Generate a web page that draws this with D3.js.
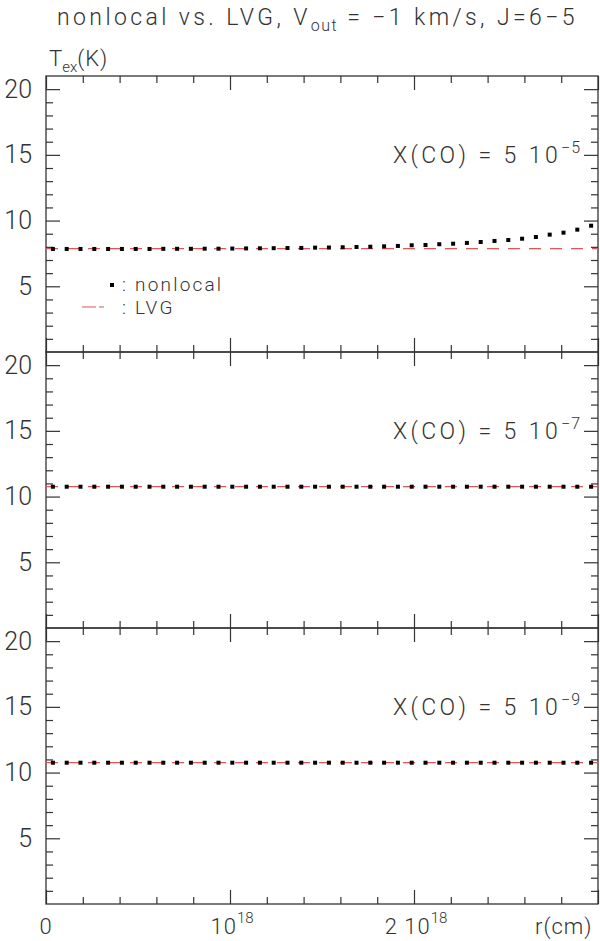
<!DOCTYPE html>
<html>
<head>
<meta charset="utf-8">
<script src="https://cdn.jsdelivr.net/npm/d3@7"></script>
<style>
body{margin:0;background:#fff;}
text{font-family:Roboto,"DejaVu Sans",sans-serif;font-weight:300;fill:#333;}
</style>
</head>
<body>
<div id="plot"></div>
<script>
// radius grid, in units of 1e18 cm
var radius = [0.0375,0.1125,0.1875,0.2625,0.3375,0.4125,0.4875,0.5625,0.6375,0.7125,
	0.7875,0.8625,0.9375,1.0125,1.0875,1.1625,1.2375,1.3125,1.3875,1.4625,
	1.5375,1.6125,1.6875,1.7625,1.8375,1.9125,1.9875,2.0625,2.1375,2.2125,
	2.2875,2.3625,2.4375,2.5125,2.5875,2.6625,2.7375,2.8125,2.8875,2.9625];

// Tex (K), X(CO) = 5e-5
var nonlocal5 = [7.84,7.84,7.84,7.84,7.84,7.84,7.84,7.84,7.85,7.85,
	7.85,7.86,7.86,7.87,7.88,7.89,7.90,7.91,7.92,7.94,
	7.95,7.97,7.99,8.01,8.04,8.07,8.12,8.14,8.20,8.24,
	8.30,8.37,8.45,8.52,8.62,8.75,8.93,9.08,9.31,9.61];
var lvg5 = [7.86,7.86,7.86,7.86,7.86,7.86,7.86,7.86,7.86,7.86,
	7.86,7.86,7.86,7.86,7.86,7.86,7.86,7.86,7.86,7.86,
	7.86,7.86,7.86,7.86,7.86,7.86,7.86,7.86,7.86,7.86,
	7.86,7.86,7.86,7.86,7.86,7.86,7.86,7.86,7.86,7.86];
// X(CO) = 5e-7
var nonlocal7 = [10.75,10.75,10.75,10.75,10.75,10.75,10.75,10.75,10.75,10.75,
	10.75,10.75,10.75,10.75,10.75,10.75,10.75,10.75,10.75,10.75,
	10.75,10.75,10.75,10.75,10.75,10.75,10.75,10.75,10.75,10.75,
	10.75,10.75,10.75,10.75,10.75,10.75,10.75,10.75,10.75,10.75];
var lvg7 = [10.75,10.75,10.75,10.75,10.75,10.75,10.75,10.75,10.75,10.75,
	10.75,10.75,10.75,10.75,10.75,10.75,10.75,10.75,10.75,10.75,
	10.75,10.75,10.75,10.75,10.75,10.75,10.75,10.75,10.75,10.75,
	10.75,10.75,10.75,10.75,10.75,10.75,10.75,10.75,10.75,10.75];
// X(CO) = 5e-9
var nonlocal9 = [10.75,10.75,10.75,10.75,10.75,10.75,10.75,10.75,10.75,10.75,
	10.75,10.75,10.75,10.75,10.75,10.75,10.75,10.75,10.75,10.75,
	10.75,10.75,10.75,10.75,10.75,10.75,10.75,10.75,10.75,10.75,
	10.75,10.75,10.75,10.75,10.75,10.75,10.75,10.75,10.75,10.75];
var lvg9 = [10.75,10.75,10.75,10.75,10.75,10.75,10.75,10.75,10.75,10.75,
	10.75,10.75,10.75,10.75,10.75,10.75,10.75,10.75,10.75,10.75,
	10.75,10.75,10.75,10.75,10.75,10.75,10.75,10.75,10.75,10.75,
	10.75,10.75,10.75,10.75,10.75,10.75,10.75,10.75,10.75,10.75];

var panelLabels = ['5', '7', '9'];   // exponent of X(CO) = 5 10^-n
var yMajor = [5, 10, 15, 20];
var yMinor = [1,2,3,4,6,7,8,9,11,12,13,14,16,17,18,19];
var xMajor = [0, 1, 2, 3];
var xMinor = [0.2,0.4,0.6,0.8,1.2,1.4,1.6,1.8,2.2,2.4,2.6,2.8];
var xTickLabels = [{v:0, base:'0', sup:''}, {v:1, base:'10', sup:'18'}, {v:2, base:'2 10', sup:'18'}];

var W = 600, H = 941;
var left = 46, right = 598, top0 = 76, panelH = 276;

var svg = d3.select('#plot').append('svg')
	.attr('width', W).attr('height', H);

var x = d3.scaleLinear().domain([0, 3]).range([left, right]);

var panels = [
	{nl: nonlocal5, lvg: lvg5, lab: panelLabels[0]},
	{nl: nonlocal7, lvg: lvg7, lab: panelLabels[1]},
	{nl: nonlocal9, lvg: lvg9, lab: panelLabels[2]}
];

function strokeAxis(g){
	g.select('.domain').remove();
	g.selectAll('line').attr('stroke', '#333').attr('stroke-width', 1.2);
}

panels.forEach(function(p, k){
	var top = top0 + k*panelH;
	var y = d3.scaleLinear().domain([0, 21]).range([top + panelH, top]);
	var g = svg.append('g');

	// ticks, all pointing inward
	g.append('g').attr('transform', 'translate(0,' + top + ')')
		.call(d3.axisTop(x).tickValues(xMajor).tickSize(-14).tickFormat(''))
		.call(strokeAxis);
	g.append('g').attr('transform', 'translate(0,' + top + ')')
		.call(d3.axisTop(x).tickValues(xMinor).tickSize(-7).tickFormat(''))
		.call(strokeAxis);
	g.append('g').attr('transform', 'translate(0,' + (top + panelH) + ')')
		.call(d3.axisBottom(x).tickValues(xMajor).tickSize(-14).tickFormat(''))
		.call(strokeAxis);
	g.append('g').attr('transform', 'translate(0,' + (top + panelH) + ')')
		.call(d3.axisBottom(x).tickValues(xMinor).tickSize(-7).tickFormat(''))
		.call(strokeAxis);

	var yl = g.append('g').attr('transform', 'translate(' + left + ',0)')
		.call(d3.axisLeft(y).tickValues(yMajor).tickSize(-14).tickPadding(14))
		.call(strokeAxis);
	yl.selectAll('text').attr('font-size', 25).attr('fill', '#333')
		.attr('font-family', 'Roboto, DejaVu Sans, sans-serif').attr('font-weight', 300);
	g.append('g').attr('transform', 'translate(' + left + ',0)')
		.call(d3.axisLeft(y).tickValues(yMinor).tickSize(-7).tickFormat(''))
		.call(strokeAxis);
	g.append('g').attr('transform', 'translate(' + right + ',0)')
		.call(d3.axisRight(y).tickValues(yMajor).tickSize(-14).tickFormat(''))
		.call(strokeAxis);
	g.append('g').attr('transform', 'translate(' + right + ',0)')
		.call(d3.axisRight(y).tickValues(yMinor).tickSize(-7).tickFormat(''))
		.call(strokeAxis);

	g.append('rect')
		.attr('x', left).attr('y', top)
		.attr('width', right - left).attr('height', panelH)
		.attr('fill', 'none').attr('stroke', '#333').attr('stroke-width', 1.3);

	// LVG: red dashed line across the panel
	g.append('path')
		.datum(p.lvg)
		.attr('d', d3.line().x(function(d, i){ return i === 0 ? left : (i === p.lvg.length - 1 ? right : x(radius[i])); }).y(function(d){ return y(d); }))
		.attr('fill', 'none')
		.attr('stroke', '#e05555')
		.attr('stroke-width', 1.2)
		.attr('stroke-dasharray', '12,9');

	// nonlocal: black square dots
	g.selectAll('rect.dot')
		.data(p.nl)
		.enter()
		.append('rect')
		.attr('class', 'dot')
		.attr('x', function(d, i){ return x(radius[i]) - 2; })
		.attr('y', function(d){ return y(d) - 2; })
		.attr('width', 4)
		.attr('height', 4)
		.attr('fill', '#000');

	var lab = g.append('text')
		.attr('x', 393).attr('y', top + 87)
		.attr('font-size', 23)
		.attr('letter-spacing', 3.4);
	lab.append('tspan').text('X(CO) = 5 10');
	lab.append('tspan').attr('dy', -10).attr('font-size', 16).attr('letter-spacing', 1).text('\u2212' + p.lab);
});

// title
var title = svg.append('text')
	.attr('x', 57).attr('y', 25)
	.attr('font-size', 23)
	.attr('letter-spacing', 3.4);
title.append('tspan').text('nonlocal vs. LVG, V');
title.append('tspan').attr('dy', 6).attr('font-size', 16).attr('letter-spacing', 1.5).text('out');
title.append('tspan').attr('dy', -6).text(' = \u22121 km/s, J=6\u22125');

// y axis label
var ylab = svg.append('text')
	.attr('x', 49).attr('y', 66)
	.attr('font-size', 22);
ylab.append('tspan').text('T');
ylab.append('tspan').attr('dy', 6).attr('font-size', 15).text('ex');
ylab.append('tspan').attr('dy', -6).attr('letter-spacing', 1).text('(K)');

// x tick labels
xTickLabels.forEach(function(t){
	var tx = svg.append('text')
		.attr('x', x(t.v) + (t.sup ? 2 : 0)).attr('y', 934)
		.attr('text-anchor', 'middle')
		.attr('font-size', 22)
		.attr('letter-spacing', 1);
	tx.append('tspan').text(t.base);
	if (t.sup) tx.append('tspan').attr('dy', -11).attr('font-size', 15).attr('letter-spacing', 0).text(t.sup);
});
svg.append('text')
	.attr('x', 535).attr('y', 934)
	.attr('font-size', 22)
	.attr('letter-spacing', 1)
	.text('r(cm)');

// legend
var legY1 = 285, legY2 = 307;
svg.append('rect')
	.attr('x', 110).attr('y', legY1 - 2)
	.attr('width', 4).attr('height', 4)
	.attr('fill', '#000');
svg.append('text').attr('x', 122).attr('y', legY1 + 6)
	.attr('font-size', 19).attr('letter-spacing', 2.2)
	.text(':\u00a0nonlocal');
svg.append('line')
	.attr('x1', 82).attr('x2', 104).attr('y1', legY2).attr('y2', legY2)
	.attr('stroke', '#e05555').attr('stroke-width', 1.2)
	.attr('stroke-dasharray', '14,3');
svg.append('text').attr('x', 122).attr('y', legY2 + 7)
	.attr('font-size', 19).attr('letter-spacing', 2.2)
	.text(':\u00a0LVG');
</script>
</body>
</html>
